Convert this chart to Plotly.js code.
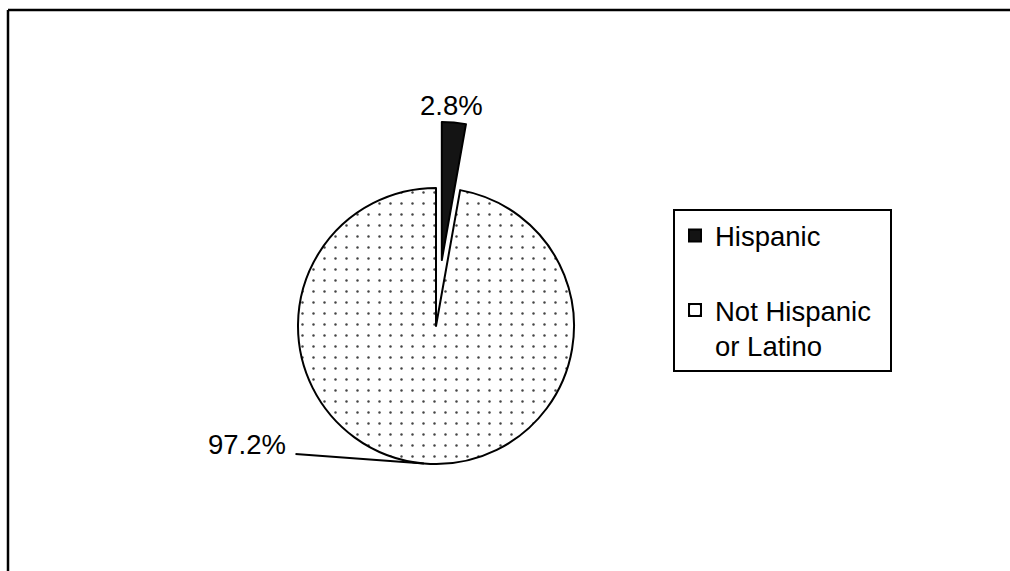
<!DOCTYPE html>
<html>
<head>
<meta charset="utf-8">
<script src="https://cdn.plot.ly/plotly-3.0.1.min.js"></script>
<style>
  html, body { margin: 0; padding: 0; background: #fff; overflow: hidden; }
  #chart { width: 1010px; height: 571px; }
</style>
</head>
<body>
<div id="chart"></div>
<script>
// ---- data ----
var categories = ['Hispanic', 'Not Hispanic or Latino'];
var legendLabels = ['Hispanic<br> ', 'Not Hispanic\u00A0\u2009<br>or Latino'];
var values = [2.8, 97.2];
var pulls = [0.48, 0];

// ---- layout constants ----
var W = 1010, H = 571;
var FONT = 'Liberation Sans, Arial, Helvetica, sans-serif';
var FS = 27.5;
var cxPx = 436, cyPx = 326, boxPx = 408.5;
var domX = [(cxPx - 250) / W, (cxPx + 250) / W];
var domY = [1 - (cyPx + boxPx / 2) / H, 1 - (cyPx - boxPx / 2) / H];
var maxPull = Math.max.apply(null, pulls);
var rPx = boxPx / (2 + 2 * maxPull);

var total = values.reduce(function (a, b) { return a + b; }, 0);
var pctText = values.map(function (v) { return (v / total * 100).toFixed(1) + '%'; });

// mid angle of second slice (clockwise from 12 o'clock)
var startFrac = values[0] / total;
var midFrac = (startFrac + 1) / 2;
var theta = midFrac * 2 * Math.PI;
var headX = cxPx + rPx * Math.sin(theta);
var headY = cyPx - rPx * Math.cos(theta);
var tailX = 294, tailY = 454;

var trace = {
  type: 'pie',
  labels: legendLabels,
  values: values,
  sort: false,
  direction: 'clockwise',
  rotation: 0,
  pull: pulls,
  domain: { x: domX, y: domY },
  marker: {
    colors: ['#141414', '#ffffff'],
    line: { color: '#000000', width: 2 },
    pattern: { shape: ['', '.'], fgcolor: '#444444', bgcolor: '#ffffff', size: 11, solidity: 0.04 }
  },
  textinfo: 'none',
  hoverinfo: 'none'
};

// chart-area frame (top and left edges)
var layout = {
  width: W, height: H,
  margin: { l: 0, r: 0, t: 0, b: 0, autoexpand: false },
  paper_bgcolor: '#ffffff',
  font: { family: FONT, size: FS, color: '#000' },
  showlegend: true,
  legend: {
    x: 673 / W, y: 1 - 209 / H, xanchor: 'left', yanchor: 'top',
    bgcolor: '#ffffff', bordercolor: '#000000', borderwidth: 2, valign: 'top',
    font: { family: FONT, size: FS, color: '#000' }, traceorder: 'normal'
  },
  shapes: [
    { type: 'line', xref: 'paper', yref: 'paper',
      x0: 8 / W, x1: 1, y0: 1 - 10 / H, y1: 1 - 10 / H,
      line: { color: '#000', width: 2.5 } },
    { type: 'line', xref: 'paper', yref: 'paper',
      x0: 8 / W, x1: 8 / W, y0: 0, y1: 1 - 10 / H,
      line: { color: '#000', width: 2.5 } }
  ],
  annotations: [
    { xref: 'paper', yref: 'paper', x: 451 / W, y: 1 - 105 / H, xanchor: 'center', yanchor: 'middle',
      text: pctText[0], showarrow: false, font: { family: FONT, size: FS, color: '#000' } },
    { xref: 'paper', yref: 'paper', x: 247 / W, y: 1 - 444 / H, xanchor: 'center', yanchor: 'middle',
      text: pctText[1], showarrow: false, font: { family: FONT, size: FS, color: '#000' } },
    { xref: 'paper', yref: 'paper', x: headX / W, y: 1 - headY / H,
      text: '', showarrow: true, arrowhead: 0, arrowwidth: 2, arrowcolor: '#000', standoff: 0,
      ax: tailX - headX, ay: tailY - headY }
  ]
};

Plotly.newPlot('chart', [trace], layout, { displayModeBar: false, staticPlot: true });
</script>
</body>
</html>
